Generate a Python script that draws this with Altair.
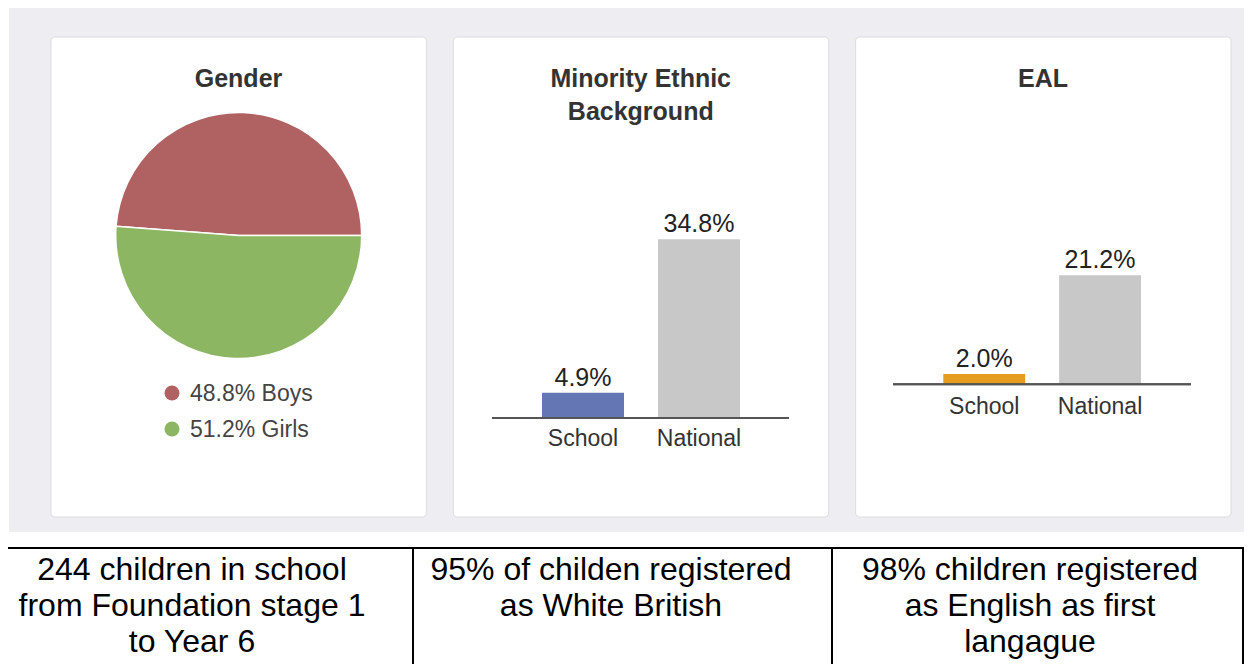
import math
import altair as alt
import pandas as pd

# ---------------- data ----------------
card_titles = [["Gender"], ["Minority Ethnic", "Background"], ["EAL"]]

gender_labels = ["Boys", "Girls"]
gender_pct = [48.8, 51.2]

bar_categories = ["School", "National"]
minority_pct = [4.9, 34.8]
eal_pct = [2.0, 21.2]

table_texts = [
    ["244 children in school", "from Foundation stage 1", "to Year 6"],
    ["95% of childen registered", "as White British"],
    ["98% children registered", "as English as first", "langague"],
]

# ---------------- styles ----------------
FONT = "Arial"
BG_GREY = "#ededf2"
CARD_STROKE = "#dcdce1"
BOYS = "#b06262"
GIRLS = "#8db663"
SCHOOL_BLUE = "#6477b4"
SCHOOL_ORANGE = "#e69c1e"
NATIONAL = "#c8c8c8"
AXIS_LINE = "#555555"
TEXT_DARK = "#333333"

W, H = 1236, 656

# ---------------- background and cards ----------------
bg = alt.Chart(pd.DataFrame({"k": [0]})).mark_rect(color=BG_GREY).encode(
    x=alt.value(1), x2=alt.value(1236), y=alt.value(0), y2=alt.value(524)
)

cards_df = pd.DataFrame({"card": [0, 1, 2], "title": card_titles})
cards = alt.Chart(cards_df).mark_rect(
    fill="white", stroke=CARD_STROKE, strokeWidth=1, cornerRadius=4
).encode(
    x=alt.X("card:O", scale=alt.Scale(type="band", domain=[0, 1, 2], range=[43, 1223],
                                      paddingInner=0.067, paddingOuter=0), axis=None),
    y=alt.value(29), y2=alt.value(509),
)

titles = alt.Chart(cards_df).mark_text(
    font=FONT, fontSize=25, fontWeight="bold", color=TEXT_DARK,
    baseline="alphabetic", align="center", lineHeight=33
).encode(
    x=alt.X("card:O", scale=alt.Scale(type="point", domain=[0, 1, 2], range=[230.5, 1035], padding=0), axis=None),
    y=alt.value(79),
    text="title:N",
)

# ---------------- gender pie ----------------
gender_df = pd.DataFrame({"label": gender_labels, "pct": gender_pct})
gender_df["legend"] = [f"{p:.1f}% {l}" for p, l in zip(gender_pct, gender_labels)]
gender_color = alt.Scale(domain=gender_labels, range=[BOYS, GIRLS])

pie = alt.Chart(gender_df).mark_arc(radius=123, stroke="white", strokeWidth=1.5).encode(
    theta=alt.Theta("pct:Q", stack=True,
                    scale=alt.Scale(range=[math.pi / 2, math.pi / 2 + 2 * math.pi])),
    color=alt.Color("label:N", scale=gender_color, legend=None),
    order=alt.Order("label:N", sort="descending"),
    x=alt.value(230.7), y=alt.value(227.5),
)

legend_y = alt.Y("label:N", scale=alt.Scale(type="point", domain=gender_labels, range=[385, 421], padding=0), axis=None)
legend_dots = alt.Chart(gender_df).mark_circle(size=225, opacity=1).encode(
    x=alt.value(164), y=legend_y,
    color=alt.Color("label:N", scale=gender_color, legend=None),
)
legend_text = alt.Chart(gender_df).mark_text(
    font=FONT, fontSize=23, color="#444444", align="left", baseline="middle", dy=1
).encode(
    x=alt.value(182), y=legend_y, text="legend:N",
)


# ---------------- bar panels ----------------
def bar_panel(values, school_color, x_range, base, rule_x, label_y):
    df = pd.DataFrame({"cat": bar_categories, "pct": values})
    df["lbl"] = [f"{v:.1f}%" for v in values]
    x = alt.X("cat:N", scale=alt.Scale(type="band", domain=bar_categories, range=x_range,
                                       paddingInner=0.293, paddingOuter=0), axis=None)
    y = alt.Y("pct:Q", scale=alt.Scale(domain=[0, 40], range=[base, base - 40 * 5.14]), axis=None)
    color = alt.Color("cat:N", scale=alt.Scale(domain=bar_categories,
                                               range=[school_color, NATIONAL]), legend=None)
    bars = alt.Chart(df).mark_bar().encode(x=x, y=y, color=color)
    vals = alt.Chart(df).mark_text(
        font=FONT, fontSize=25, color="#222222", baseline="alphabetic", dy=-7
    ).encode(x=x, y=y, text="lbl:N")
    cats = alt.Chart(df).mark_text(
        font=FONT, fontSize=23, color=TEXT_DARK, baseline="middle"
    ).encode(x=x, y=alt.value(label_y), text="cat:N")
    rule = alt.Chart(df).mark_rule(color=AXIS_LINE, strokeWidth=2).encode(
        x=alt.value(rule_x[0]), x2=alt.value(rule_x[1]), y=alt.value(base)
    )
    return [bars, rule, vals, cats]


minority = bar_panel(minority_pct, SCHOOL_BLUE, [534, 732], 410, (484, 781), 431)
eal = bar_panel(eal_pct, SCHOOL_ORANGE, [935.3, 1133], 376.3, (885, 1183), 398.7)

# ---------------- table ----------------
line_df = pd.DataFrame({"k": [0]})
table_lines = [
    alt.Chart(line_df).mark_rule(color="black", strokeWidth=2).encode(
        x=alt.value(0), x2=alt.value(W), y=alt.value(540)),
]
for vx in (405, 824, 1235):
    table_lines.append(
        alt.Chart(line_df).mark_rule(color="black", strokeWidth=2).encode(
            x=alt.value(vx), y=alt.value(540), y2=alt.value(H))
    )

table_df = pd.DataFrame({"cell": [0, 1, 2], "text": table_texts})
table_text = alt.Chart(table_df).mark_text(
    font=FONT, fontSize=32, color="black", baseline="alphabetic", align="center", lineHeight=36
).encode(
    x=alt.X("cell:O", scale=alt.Scale(type="point", domain=[0, 1, 2], range=[184, 1022], padding=0), axis=None),
    y=alt.value(572),
    text="text:N",
)

layers = [bg, cards, titles, pie, legend_dots, legend_text] + minority + eal + table_lines + [table_text]

chart = alt.layer(*layers).resolve_scale(
    x="independent", y="independent", color="independent", theta="independent"
).properties(
    width=W, height=H, padding=0, autosize="none", background="white"
).configure_view(strokeWidth=0)

chart.save("out.html", embed_options={"renderer": "svg", "actions": False})
